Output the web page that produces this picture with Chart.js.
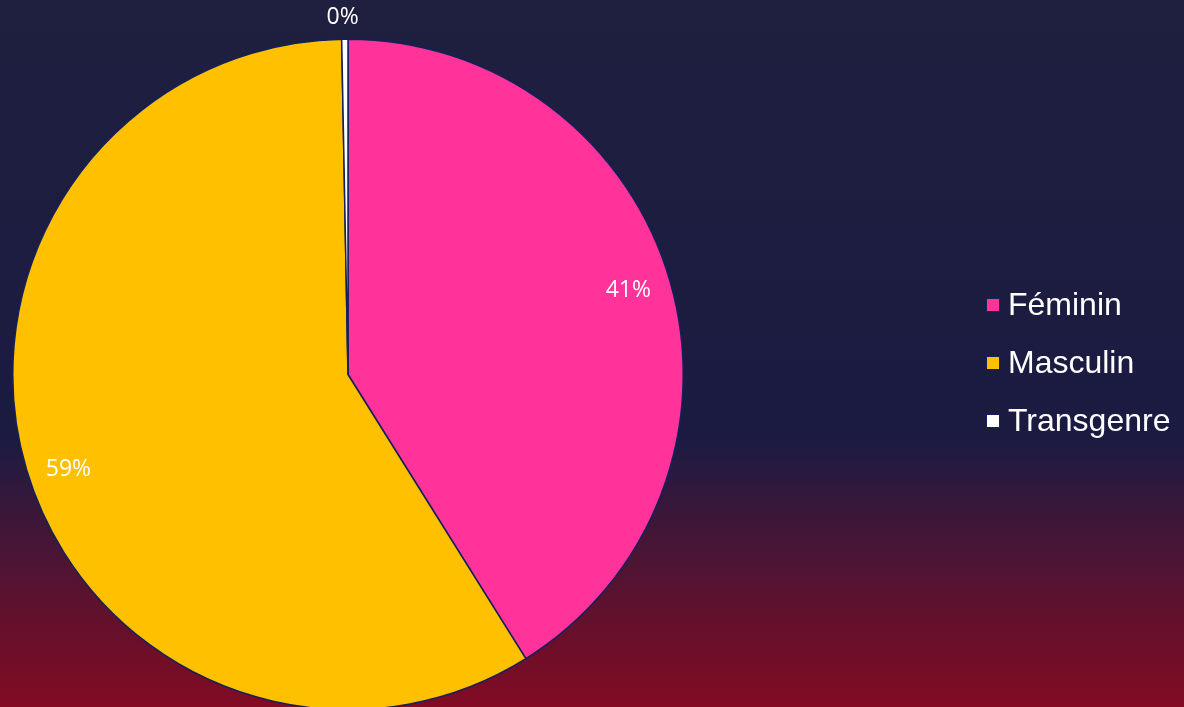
<!DOCTYPE html>
<html><head><meta charset="utf-8">
<script src="https://cdn.jsdelivr.net/npm/chart.js@4/dist/chart.umd.min.js"></script>
<style>
html,body{margin:0;padding:0;}
body{width:1184px;height:707px;overflow:hidden;background:linear-gradient(to bottom,#1f1f3f 0%,#1b1b42 62%,#4a1535 78%,#820b22 100%);}
#wrap{position:absolute;left:0;top:0;width:1184px;height:711px;}
</style></head><body>
<div id="wrap"><canvas id="c" width="1184" height="711"></canvas></div>
<script>
const categories = ['Féminin', 'Masculin', 'Transgenre'];
const values = [41.1, 58.6, 0.3];
const pctLabels = ['41%', '59%', '0%'];
const colors = ['#ff3399', '#ffc000', '#ffffff'];

const labelPlugin = {
  id: 'pctLabels',
  afterDatasetsDraw(chart) {
    const ctx = chart.ctx;
    const meta = chart.getDatasetMeta(0);
    ctx.save();
    ctx.fillStyle = '#ffffff';
    ctx.font = '23px "Open Sans", "Noto Sans", sans-serif';
    ctx.textAlign = 'center';
    ctx.textBaseline = 'middle';
    meta.data.forEach((arc, i) => {
      const mid = (arc.startAngle + arc.endAngle) / 2;
      const frac = (arc.endAngle - arc.startAngle) / (2 * Math.PI);
      let r;
      if (frac < 0.02) r = arc.outerRadius + 22;
      else r = arc.outerRadius * 0.87;
      let x = arc.x + Math.cos(mid) * r;
      let y = arc.y + Math.sin(mid) * r;
      if (i === 1) y += 12;
      if (i === 0) y -= 4;
      if (i === 2) x -= 2;
      ctx.fillText(pctLabels[i], x, y);
    });
    ctx.restore();
  }
};

const legendPlugin = {
  id: 'customLegend',
  afterDraw(chart) {
    const ctx = chart.ctx;
    ctx.save();
    ctx.font = '32px "Liberation Sans", Arial, sans-serif';
    ctx.textBaseline = 'middle';
    ctx.textAlign = 'left';
    chart.data.labels.forEach((lab, i) => {
      const cy = 305 + i * 58;
      ctx.fillStyle = chart.data.datasets[0].backgroundColor[i];
      ctx.fillRect(986, cy - 7, 14, 14);
      ctx.strokeStyle = '#12215e';
      ctx.lineWidth = 1;
      ctx.strokeRect(986.5, cy - 6.5, 13, 13);
      ctx.fillStyle = '#ffffff';
      ctx.fillText(lab, 1008, cy + 1);
    });
    ctx.restore();
  }
};

new Chart(document.getElementById('c'), {
  type: 'pie',
  data: {
    labels: categories,
    datasets: [{
      data: values,
      backgroundColor: colors,
      borderColor: '#12215e',
      borderWidth: 1.5
    }]
  },
  options: {
    responsive: false,
    animation: false,
    layout: { padding: { left: 12, right: 500, top: 38, bottom: 0 } },
    plugins: { legend: { display: false }, tooltip: { enabled: false } }
  },
  plugins: [labelPlugin, legendPlugin]
});
</script>
</body></html>
